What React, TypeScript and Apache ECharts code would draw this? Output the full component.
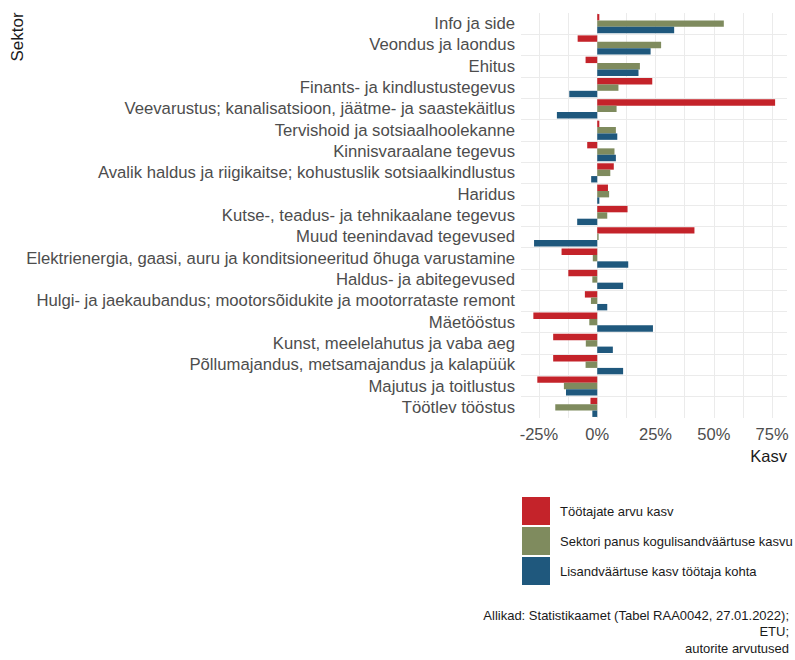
import React, { useEffect, useRef } from "react";
import * as echarts from "echarts";

const categories = [
  "Info ja side",
  "Veondus ja laondus",
  "Ehitus",
  "Finants- ja kindlustustegevus",
  "Veevarustus; kanalisatsioon, jäätme- ja saastekäitlus",
  "Tervishoid ja sotsiaalhoolekanne",
  "Kinnisvaraalane tegevus",
  "Avalik haldus ja riigikaitse; kohustuslik sotsiaalkindlustus",
  "Haridus",
  "Kutse-, teadus- ja tehnikaalane tegevus",
  "Muud teenindavad tegevused",
  "Elektrienergia, gaasi, auru ja konditsioneeritud õhuga varustamine",
  "Haldus- ja abitegevused",
  "Hulgi- ja jaekaubandus; mootorsõidukite ja mootorrataste remont",
  "Mäetööstus",
  "Kunst, meelelahutus ja vaba aeg",
  "Põllumajandus, metsamajandus ja kalapüük",
  "Majutus ja toitlustus",
  "Töötlev tööstus",
];

const seriesNames = [
  "Töötajate arvu kasv",
  "Sektori panus kogulisandväärtuse kasvu",
  "Lisandväärtuse kasv töötaja kohta",
];

const employmentGrowth = [0.9, -8.4, -5.0, 23.6, 76.3, 0.9, -4.3, 7.1, 4.6, 13.0, 41.7, -15.3, -12.4, -5.3, -27.4, -18.9, -18.9, -25.7, -2.9];
const contributionGrowth = [54.3, 27.4, 18.3, 9.1, 8.3, 8.0, 7.4, 5.6, 5.1, 4.3, 0.6, -1.9, -2.1, -2.7, -3.4, -4.9, -5.0, -14.3, -18.0];
const productivityGrowth = [33.0, 22.9, 17.7, -12.0, -17.3, 8.6, 8.0, -2.6, 0.9, -8.6, -27.1, 13.3, 11.1, 4.3, 23.9, 6.7, 11.1, -13.4, -2.1];

const xLabelValues = [-25, 0, 25, 50, 75];
const xGridValues = [-25, -12.5, 0, 12.5, 25, 37.5, 50, 62.5, 75];
const xMin = -32.7;
const xMax = 81.4;

const yAxisTitle = "Sektor";
const xAxisTitle = "Kasv";
const captionLines = [
  "Allikad: Statistikaamet (Tabel RAA0042, 27.01.2022);",
  "ETU;",
  "autorite arvutused",
];

const colors = ["#C4232A", "#7F8B5E", "#1F587D"];
const FONT = "Liberation Sans, Arial, sans-serif";

export default function App() {
  const ref = useRef<HTMLDivElement>(null);

  useEffect(() => {
    document.body.style.margin = "0";
    if (!ref.current) return;
    const chart = echarts.init(ref.current, undefined, { renderer: "svg" });
    const seriesData = [employmentGrowth, contributionGrowth, productivityGrowth];

    const option: any = {
      animation: false,
      backgroundColor: "#ffffff",
      textStyle: { fontFamily: FONT },
      grid: { left: 521, right: 8, top: 13, height: 405, containLabel: false },
      xAxis: {
        type: "value",
        min: xMin,
        max: xMax,
        axisLine: { show: false },
        axisTick: { show: false, customValues: xGridValues },
        axisLabel: {
          customValues: xLabelValues,
          formatter: (v: number) => `${v}%`,
          fontSize: 16.5,
          color: "#4d4d4d",
          fontFamily: FONT,
          margin: 7,
        },
        splitLine: { show: true, lineStyle: { color: "#ebebeb", width: 1 } },
      },
      yAxis: {
        type: "category",
        data: categories,
        inverse: true,
        axisLine: { show: false },
        axisTick: { show: false },
        axisLabel: {
          interval: 0,
          fontSize: 16.7,
          color: "#4d4d4d",
          fontFamily: FONT,
          margin: 6,
        },
        splitLine: {
          show: true,
          interval: 0,
          showMinLine: false,
          showMaxLine: false,
          lineStyle: { color: "#ebebeb", width: 1 },
        },
      },
      legend: {
        orient: "vertical",
        left: 522,
        top: 497,
        padding: 0,
        itemWidth: 28,
        itemHeight: 28,
        itemGap: 2,
        icon: "rect",
        data: seriesNames,
        textStyle: {
          fontSize: 13,
          color: "#1a1a1a",
          fontFamily: FONT,
          padding: [0, 0, 0, 5],
        },
      },
      series: seriesNames.map((name, i) => ({
        name,
        type: "bar",
        data: seriesData[i],
        barGap: "0%",
        barCategoryGap: "10%",
        itemStyle: { color: colors[i] },
      })),
      graphic: [
        {
          type: "text",
          x: 17,
          y: 37,
          rotation: Math.PI / 2,
          style: {
            text: yAxisTitle,
            fontSize: 17,
            fontFamily: FONT,
            fill: "#1a1a1a",
            align: "center",
            verticalAlign: "middle",
            textAlign: "center",
            textVerticalAlign: "middle",
          },
        },
        {
          type: "text",
          x: 787,
          y: 456,
          style: {
            text: xAxisTitle,
            fontSize: 16.5,
            fontFamily: FONT,
            fill: "#1a1a1a",
            align: "right",
            verticalAlign: "middle",
            textAlign: "right",
            textVerticalAlign: "middle",
          },
        },
        ...captionLines.map((line, i) => ({
          type: "text",
          x: 789,
          y: 615 + i * 16.5,
          style: {
            text: line,
            fontSize: 13,
            fontFamily: FONT,
            fill: "#1a1a1a",
            align: "right",
            verticalAlign: "middle",
            textAlign: "right",
            textVerticalAlign: "middle",
          },
        })),
      ],
    };

    chart.setOption(option);
    return () => chart.dispose();
  }, []);

  return <div ref={ref} style={{ width: 795, height: 660 }} />;
}
